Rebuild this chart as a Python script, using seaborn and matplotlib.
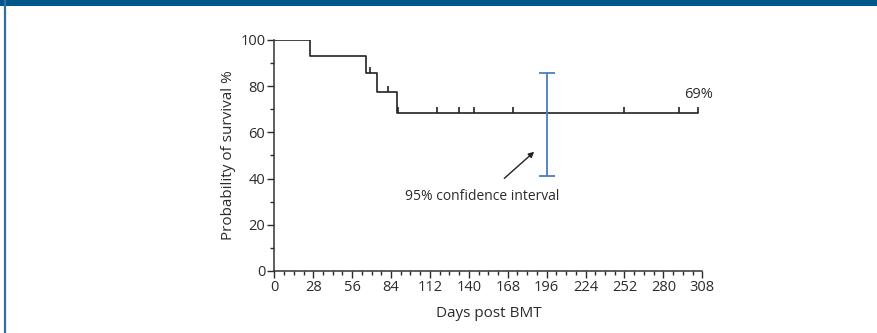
import numpy as np
import matplotlib
matplotlib.use("Agg")
import matplotlib.pyplot as plt
from matplotlib.ticker import MultipleLocator
from matplotlib.patches import Rectangle
from matplotlib.lines import Line2D
import seaborn as sns

# Kaplan-Meier steps (days, survival %)
step_days = [0, 26, 66, 74, 88, 305]
step_surv = [100, 92.9, 85.7, 77.6, 68.5, 68.5]
# censored observations (days)
censor_days = [17, 69, 82, 89, 117, 133, 144, 172, 252, 291, 305]
# 95% confidence interval at final estimate
ci_day = 196
ci_low, ci_high = 41.3, 85.8
final_label = "69%"

sns.set_style("ticks")
plt.rcParams["font.family"] = ["Open Sans", "DejaVu Sans"]
plt.rcParams["text.color"] = "#2b2b2b"
plt.rcParams["axes.labelcolor"] = "#2b2b2b"
plt.rcParams["xtick.color"] = "#2b2b2b"
plt.rcParams["ytick.color"] = "#2b2b2b"

fig = plt.figure(figsize=(8.77, 3.33), dpi=100)
ax = fig.add_axes([0.3128, 0.1862, 0.488, 0.6937])

line_col = "#222222"
sns.lineplot(x=step_days, y=step_surv, drawstyle="steps-post", color=line_col,
             linewidth=1.2, ax=ax, estimator=None)

idx = np.searchsorted(step_days, censor_days, side="right") - 1
censor_surv = np.array(step_surv)[idx]
ax.plot(censor_days, censor_surv, linestyle="none", marker=2, markersize=4.5,
        markeredgewidth=1.2, color=line_col)

ax.errorbar([ci_day], [(ci_low + ci_high) / 2], yerr=[[(ci_high - ci_low) / 2]],
            fmt="none", ecolor="#4a7fc1", elinewidth=1.3, capsize=6, capthick=1.3)

ax.annotate("", xy=(187, 51.6), xytext=(165.5, 40.1),
            arrowprops=dict(arrowstyle="-|>", color=line_col, lw=1.0,
                            mutation_scale=8, shrinkA=0, shrinkB=0))
ax.text(149.5, 32.2, "95% confidence interval", ha="center", va="center", fontsize=10)
ax.text(305, 76.5, final_label, ha="center", va="center", fontsize=10.5)

ax.set_xlim(0, 308)
ax.set_ylim(0, 100)
ax.xaxis.set_major_locator(MultipleLocator(28))
ax.xaxis.set_minor_locator(MultipleLocator(7))
ax.yaxis.set_major_locator(MultipleLocator(20))
ax.yaxis.set_minor_locator(MultipleLocator(10))
ax.tick_params(axis="both", which="major", length=5, width=1, labelsize=10.5, pad=1.5)
ax.tick_params(axis="both", which="minor", length=3, width=1)
for s in ["left", "bottom"]:
    ax.spines[s].set_linewidth(1.1)
    ax.spines[s].set_color("#333333")
sns.despine(ax=ax)
ax.set_xlabel("Days post BMT", fontsize=11, labelpad=8)
ax.set_ylabel("Probability of survival %", fontsize=11, labelpad=3)

# page frame
fig.patches.append(Rectangle((0, 1 - 6 / 333), 1, 6 / 333, transform=fig.transFigure,
                             facecolor="#00578b", edgecolor="none"))
fig.lines.append(Line2D([4.5 / 877, 4.5 / 877], [0, 1], transform=fig.transFigure,
                        color="#2f6f9f", linewidth=1.6))

fig.savefig("out.png", dpi=100)
